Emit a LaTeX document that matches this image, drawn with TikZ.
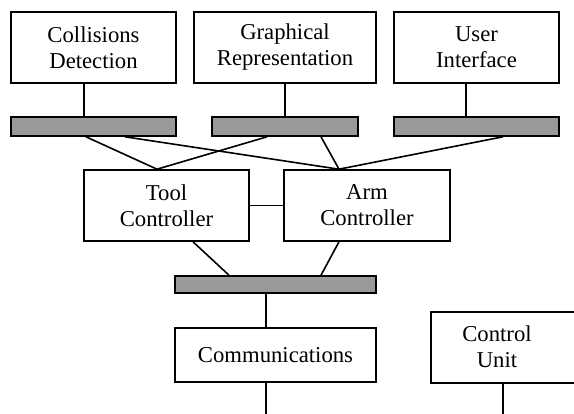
\documentclass[tikz,border=0pt]{standalone}
\usepackage{fontspec}
\setmainfont{Liberation Serif}
\definecolor{busgray}{RGB}{153,153,153}
\begin{document}
\begin{tikzpicture}[x=1pt, y=-1pt,
  box/.style={draw=black, line width=1.6pt, align=center, inner sep=0pt,
    minimum height=71, font=\fontsize{22.7}{26}\selectfont},
  bus/.style={draw=black, line width=1.6pt, fill=busgray, inner sep=0pt, minimum height=19},
  link/.style={line width=1.6pt}]
\clip (0,0) rectangle (574,414);
\useasboundingbox (0,0) rectangle (574,414);
% top row
\node [box, minimum width=165] (cd) at (93.5,47.5) {Collisions\\Detection};
\node [box, minimum width=182] (gr) at (285,47.5) {Graphical\\Representation};
\node [box, minimum width=165] (ui) at (476.5,47.5) {User\\Interface};
% buses
\node [bus, minimum width=165] (bus1) at (93.5,126.5) {};
\node [bus, minimum width=146] (bus2) at (285,126.5) {};
\node [bus, minimum width=165] (bus3) at (476.5,126.5) {};
% controllers
\node [box, minimum width=165] (tc) at (166.5,205.5) {Tool\\Controller};
\node [box, minimum width=166] (ac) at (367,205.5) {Arm\\Controller};
\node [bus, minimum width=201, minimum height=17] (bus4) at (275.5,284.5) {};
% bottom row
\node [box, minimum width=201, minimum height=54] (cm) at (275.5,355) {Communications};
\node [box, minimum width=190, anchor=north west] (cu) at (430,311) {};
\node [align=center, font=\fontsize{22.7}{26}\selectfont] (cutext) at (497,346.5) {Control\\Unit};
\coordinate (cmout) at (266,420);
\coordinate (cuout) at (503,420);
% connectors
\coordinate (tcin) at ([xshift=-9.5]tc.north);
\coordinate (acin) at ([xshift=-28]ac.north);
\draw [link] ([xshift=-9.5]cd.south) -- ([xshift=-9.5]bus1.north);
\draw [link] (gr.south) -- (bus2.north);
\draw [link] ([xshift=-10.5]ui.south) -- ([xshift=-10.5]bus3.north);
\draw [link] ([xshift=-7.5]bus1.south) -- (tcin);
\draw [link] ([xshift=31.5]bus1.south) -- (acin);
\draw [link] ([xshift=-18]bus2.south) -- (tcin);
\draw [link] ([xshift=36]bus2.south) -- (acin);
\draw [link] ([xshift=26.5]bus3.south) -- (acin);
\draw [link] (tc.east) -- (ac.west);
\draw [link] ([xshift=26.5]tc.south) -- ([xshift=-46.5]bus4.north);
\draw [link] ([xshift=-28]ac.south) -- ([xshift=45.5]bus4.north);
\draw [link] ([xshift=-9.5]bus4.south) -- ([xshift=-9.5]cm.north);
\draw [link] ([xshift=-9.5]cm.south) -- (cmout);
\draw [link] (cu.south west -| cuout) -- (cuout);
\end{tikzpicture}
\end{document}
